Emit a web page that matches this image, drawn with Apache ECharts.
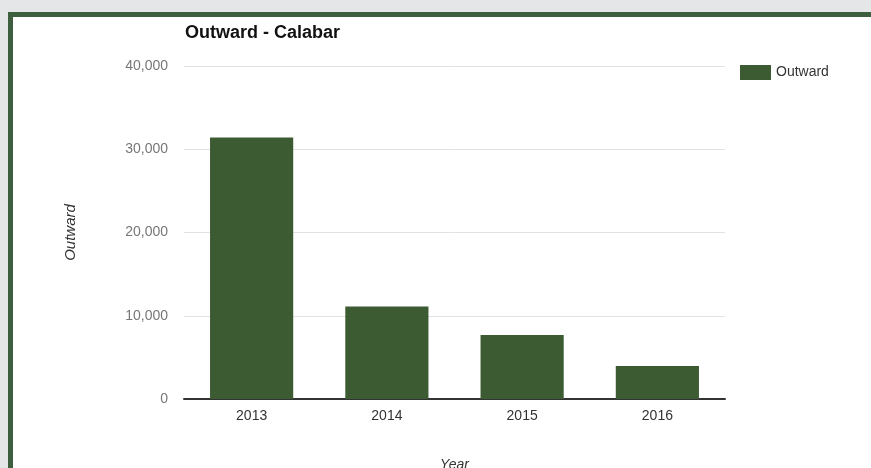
<!DOCTYPE html>
<html>
<head>
<meta charset="utf-8">
<style>
  html, body { margin: 0; padding: 0; background: #e5e6e8; }
  #chart { width: 871px; height: 468px; }
</style>
<script src="https://cdn.jsdelivr.net/npm/echarts@6/dist/echarts.min.js"></script>
</head>
<body>
<div id="chart"></div>
<script>
// Outward passenger counts for Calabar by year
const years = ['2013', '2014', '2015', '2016'];
const outward = [31400, 11100, 7700, 3950];
const yTicks = { min: 0, max: 40000, interval: 10000 };

const FONT = '"Liberation Sans", Arial, sans-serif';
const GREEN = '#3d5b33';

const chart = echarts.init(document.getElementById('chart'), null, { renderer: 'canvas' });
chart.setOption({
  backgroundColor: '#e5e6e8',
  animation: false,
  graphic: [{
    type: 'rect',
    z: -10,
    silent: true,
    shape: { x: 10.5, y: 14.5, width: 900, height: 500 },
    style: { fill: '#ffffff', stroke: '#3e5e40', lineWidth: 5 }
  }],
  title: {
    text: 'Outward - Calabar',
    left: 180,
    top: 19,
    textStyle: { fontFamily: FONT, fontSize: 18, fontWeight: 'bold', color: '#111' }
  },
  legend: {
    data: ['Outward'],
    orient: 'vertical',
    left: 735,
    top: 60,
    itemWidth: 31,
    itemHeight: 15,
    itemGap: 6,
    icon: 'rect',
    textStyle: { fontFamily: FONT, fontSize: 14, color: '#333' }
  },
  grid: { left: 184, right: 146, top: 66, bottom: 69, outerBoundsMode: 'none' },
  xAxis: {
    type: 'category',
    data: years,
    name: 'Year',
    nameLocation: 'middle',
    nameGap: 59,
    nameTextStyle: { fontFamily: FONT, fontSize: 14, color: '#333', fontStyle: 'italic' },
    axisLine: { lineStyle: { color: '#333', width: 2 } },
    axisTick: { show: false },
    axisLabel: { fontFamily: FONT, fontSize: 14, color: '#333', margin: 10 }
  },
  yAxis: {
    type: 'value',
    min: yTicks.min,
    max: yTicks.max,
    interval: yTicks.interval,
    name: 'Outward',
    nameLocation: 'middle',
    nameGap: 106,
    nameRotate: 90,
    nameTextStyle: { fontFamily: FONT, fontSize: 15, color: '#333', fontStyle: 'italic' },
    axisLine: { show: false },
    axisTick: { show: false },
    splitLine: { lineStyle: { color: '#e2e2e2', width: 1 } },
    axisLabel: {
      fontFamily: FONT, fontSize: 14, color: '#777', margin: 16,
      formatter: v => v.toLocaleString('en-US')
    }
  },
  series: [{
    name: 'Outward',
    type: 'bar',
    data: outward,
    barCategoryGap: '38.5%',
    itemStyle: { color: GREEN }
  }]
});
</script>
</body>
</html>
